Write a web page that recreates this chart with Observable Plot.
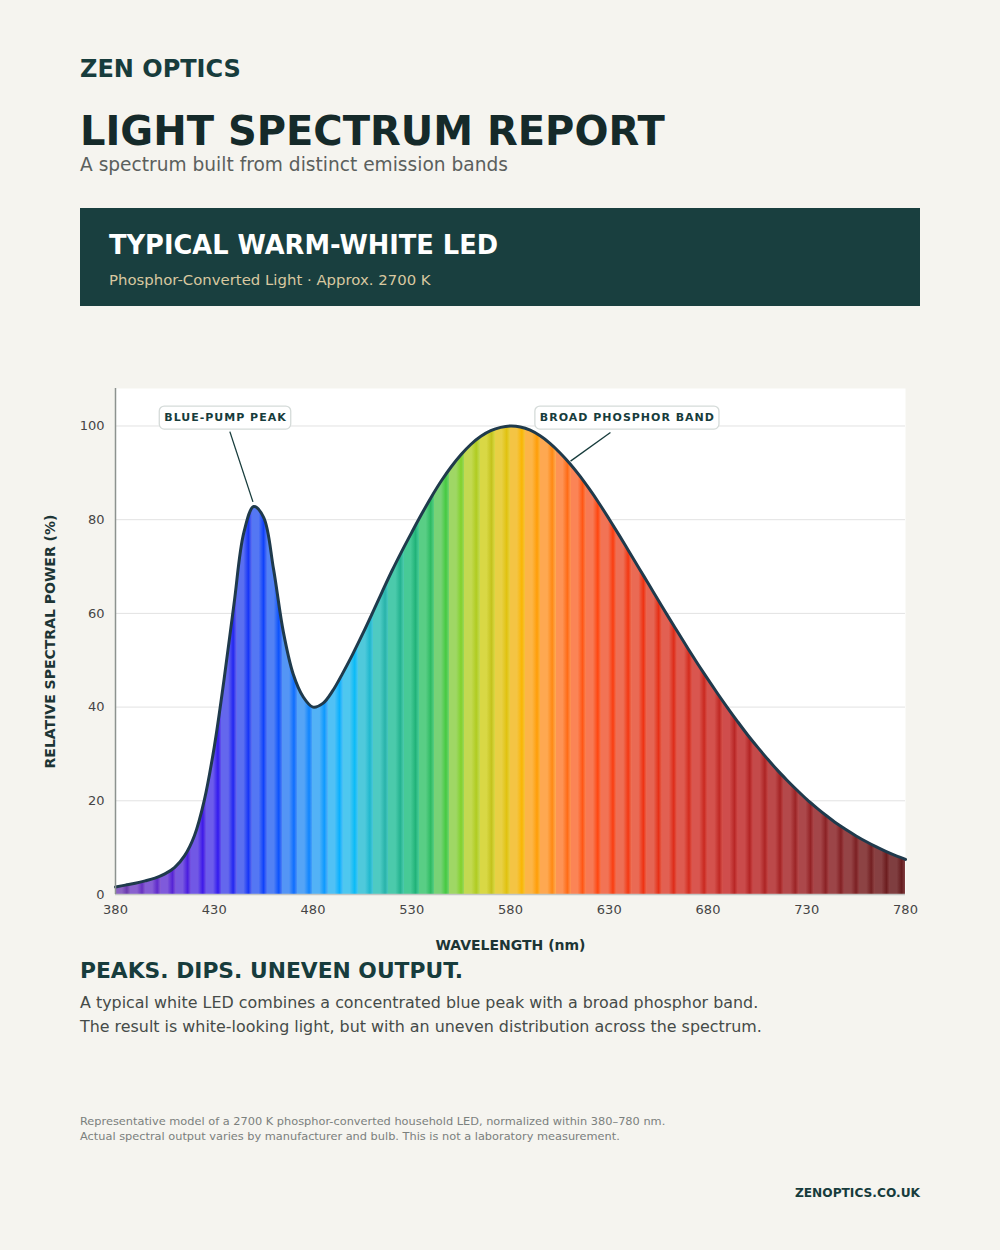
<!DOCTYPE html>
<html><head><meta charset="utf-8">
<script src="https://cdn.jsdelivr.net/npm/d3@7"></script>
<script src="https://cdn.jsdelivr.net/npm/@observablehq/plot@0.6"></script>
<style>
html,body{margin:0;padding:0;background:#f5f4ef;}
body{font-family:"DejaVu Sans",sans-serif;}
#page{position:relative;width:1000px;height:1250px;overflow:hidden;}
.t{position:absolute;left:80px;white-space:nowrap;line-height:1;}
#brand{top:56.7px;font-size:24px;font-weight:bold;color:#173c3c;}
#title{top:111.2px;font-size:40px;font-weight:bold;color:#152a2a;}
#subtitle{top:155.5px;font-size:18.6px;color:#5b605d;}
#box{position:absolute;left:80px;top:208px;width:840px;height:98px;background:#193f3f;}
#boxtitle{left:109px;top:233.2px;font-size:25.7px;font-weight:bold;color:#ffffff;}
#boxsub{left:109px;top:272.8px;font-size:14.9px;color:#d8c8a0;}
#chart{position:absolute;left:0;top:340px;}
#sechead{top:960.4px;font-size:21.8px;font-weight:bold;color:#173c3c;}
#body{top:990.5px;font-size:15.9px;line-height:24px;color:#454b48;}
#foot{top:1113.5px;font-size:11.35px;line-height:15.5px;color:#7b807d;}
#url{left:auto;right:80px;top:1186.6px;font-size:12.2px;font-weight:bold;color:#173c3c;}
</style></head><body>
<div id="page">
  <div class="t" id="brand">ZEN OPTICS</div>
  <div class="t" id="title">LIGHT SPECTRUM REPORT</div>
  <div class="t" id="subtitle">A spectrum built from distinct emission bands</div>
  <div id="box"></div>
  <div class="t" id="boxtitle">TYPICAL WARM-WHITE LED</div>
  <div class="t" id="boxsub">Phosphor-Converted Light · Approx. 2700 K</div>
  <div id="chart"></div>
  <div class="t" id="sechead">PEAKS. DIPS. UNEVEN OUTPUT.</div>
  <div class="t" id="body">A typical white LED combines a concentrated blue peak with a broad phosphor band.<br>The result is white-looking light, but with an uneven distribution across the spectrum.</div>
  <div class="t" id="foot">Representative model of a 2700 K phosphor-converted household LED, normalized within 380–780 nm.<br>Actual spectral output varies by manufacturer and bulb. This is not a laboratory measurement.</div>
  <div class="t" id="url">ZENOPTICS.CO.UK</div>
</div>
<script>
// ---- data ----
const wavelengths = [380,385,390,395,400,405,410,415,420,425,430,435,440,445,450,455,460,465,470,475,
  480,485,490,495,500,505,510,515,520,525,530,535,540,545,550,555,560,565,570,575,
  580,585,590,595,600,605,610,615,620,625,630,635,640,645,650,655,660,665,670,675,
  680,685,690,695,700,705,710,715,720,725,730,735,740,745,750,755,760,765,770,775,780];
const power = [1.6,2.0,2.4,2.9,3.5,4.4,5.8,8.3,12.6,20.2,31.5,46,62,77.3,82.8,80.5,69.5,56,47,42.2,
  40,40.8,43.5,47.2,51.2,55.5,60,64.6,69.1,73.3,77.3,81.2,84.9,88.3,91.3,93.9,96.1,97.8,99.0,99.7,
  100,99.8,99.1,97.9,96.3,94.3,92.0,89.4,86.5,83.4,80.1,76.7,73.2,69.7,66.2,62.7,59.2,55.8,52.4,49.1,
  45.9,42.8,39.8,36.9,34.1,31.5,29.0,26.6,24.4,22.3,20.3,18.5,16.8,15.2,13.8,12.5,11.3,10.2,9.2,8.3,7.5];
const xTicks = [380,430,480,530,580,630,680,730,780];
const yTicks = [0,20,40,60,80,100];
// spectrum colour anchors (every 10 nm, 380..780)
const colorAnchors = ["#7b4fb4","#7a4cc6","#7447d0","#6c43d8","#6040e0","#5846e8","#4c56ec","#3e5ff0","#3a6ef2","#3d8af4",
  "#3fa0f5","#38b6f5","#36c0ec","#38c3cc","#33c3a6","#2ec388","#48c86e","#80d05a","#b9d43a","#d9d32a",
  "#ecc42a","#fcae2c","#fe9a3a","#fd7a40","#f76a3e","#f0603e","#ea5a3e","#e4523c","#de4a3a","#d84438",
  "#d13c36","#ca3634","#c23232","#b93031","#ad3032","#a12f32","#952d30","#8a2b2e","#7f292b","#752628","#6a2224"];
const stripeCount = 52;
const annLabels = ["BLUE-PUMP PEAK","BROAD PHOSPHOR BAND"];
const annTextX = [435.7,639.2], annTextY = [101.8,101.8];
const annFromX = [437.9,630.6], annFromY = [98.8,98.6];
const annToX = [449.6,610.4], annToY = [83.8,92.5];
const xLabel = "WAVELENGTH (nm)";
const yLabel = "RELATIVE SPECTRAL POWER (%)";

// ---- build ----
const rows = wavelengths.map((w,i)=>({w, p: power[i]}));
const ann = annLabels.map((label,i)=>({label, tx:annTextX[i], ty:annTextY[i], x1:annFromX[i], y1:annFromY[i], x2:annToX[i], y2:annToY[i]}));

const plot = Plot.plot({
  width: 1000, height: 620,
  marginLeft: 115, marginRight: 95, marginTop: 48, marginBottom: 66,
  style: {background: "transparent", fontFamily: "DejaVu Sans, sans-serif", fontSize: "13px", color: "#454545"},
  x: {domain: [380,780], ticks: xTicks, tickSize: 0, tickPadding: 10, label: null, tickFormat: d => String(d)},
  y: {domain: [0,108], ticks: yTicks, tickSize: 0, tickPadding: 11, label: null},
  marks: [
    Plot.frame({fill: "white", stroke: null}),
    Plot.ruleY(yTicks.filter(d => d > 0), {stroke: "#e2e2e2", strokeWidth: 1}),
    Plot.areaY(rows, {x: "w", y: "p", curve: "catmull-rom", fill: "url(#spectrumGrad)"}),
    Plot.lineY(rows, {x: "w", y: "p", curve: "catmull-rom", stroke: "#1f3a4c", strokeWidth: 3}),
    Plot.ruleY([0], {stroke: "#c4c6c4", strokeWidth: 1.5}),
    Plot.ruleX([380], {stroke: "#8d928f", strokeWidth: 1.5}),
    Plot.link(ann, {x1: "x1", y1: "y1", x2: "x2", y2: "y2", stroke: "#173c3c", strokeWidth: 1.3}),
    Plot.text(ann, {x: "tx", y: "ty", text: "label", fontSize: 11, fontWeight: "bold", fill: "#173c3c", textAnchor: "middle"}),
    Plot.text([xLabel], {text: d => d, frameAnchor: "bottom", dy: 55, textAnchor: "middle", fontSize: 14, fontWeight: "bold", fill: "#1d3535"}),
    Plot.text([yLabel], {text: d => d, frameAnchor: "left", dx: -65, rotate: -90, textAnchor: "middle", fontSize: 14, fontWeight: "bold", fill: "#1d3535"})
  ]
});
document.getElementById("chart").appendChild(plot);

// gradient with stripes
const xs = plot.scale("x");
const svg = d3.select(plot);
const defs = svg.insert("defs", ":first-child");
const grad = defs.append("linearGradient").attr("id", "spectrumGrad")
  .attr("gradientUnits", "userSpaceOnUse")
  .attr("x1", xs.apply(380)).attr("x2", xs.apply(780)).attr("y1", 0).attr("y2", 0);
const interp = d3.piecewise(d3.interpolateRgb, colorAnchors);
const p = 1 / stripeCount;
for (let k = 0; k < stripeCount; k++) {
  const a = k * p;
  const base = interp(Math.min(1, (k + 0.5) * p));
  const light = d3.interpolateRgb(base, "#ffffff")(0.12);
  const h = d3.hsl(base); h.l *= 0.88; h.s = Math.min(1, h.s * 1.12);
  const dark = h.formatHex();
  [[a, light], [a + 0.45 * p, light], [a + 0.78 * p, dark], [a + p, light]].forEach(([o, c]) =>
    grad.append("stop").attr("offset", Math.min(1, o)).attr("stop-color", c));
}

// annotation boxes
svg.selectAll("text").filter(function(){ return annLabels.includes(this.textContent); }).each(function(){
  this.setAttribute("letter-spacing", "1");
  const b = this.getBBox();
  const r = document.createElementNS("http://www.w3.org/2000/svg", "rect");
  const tf = this.getAttribute("transform");
  if (tf) r.setAttribute("transform", tf);
  r.setAttribute("x", b.x - 5); r.setAttribute("y", b.y - 5);
  r.setAttribute("width", b.width + 9); r.setAttribute("height", b.height + 10);
  r.setAttribute("rx", 5); r.setAttribute("fill", "#ffffff");
  r.setAttribute("stroke", "#d5dbd9"); r.setAttribute("stroke-width", 1.3);
  this.parentNode.insertBefore(r, this);
});
</script>
</body></html>
